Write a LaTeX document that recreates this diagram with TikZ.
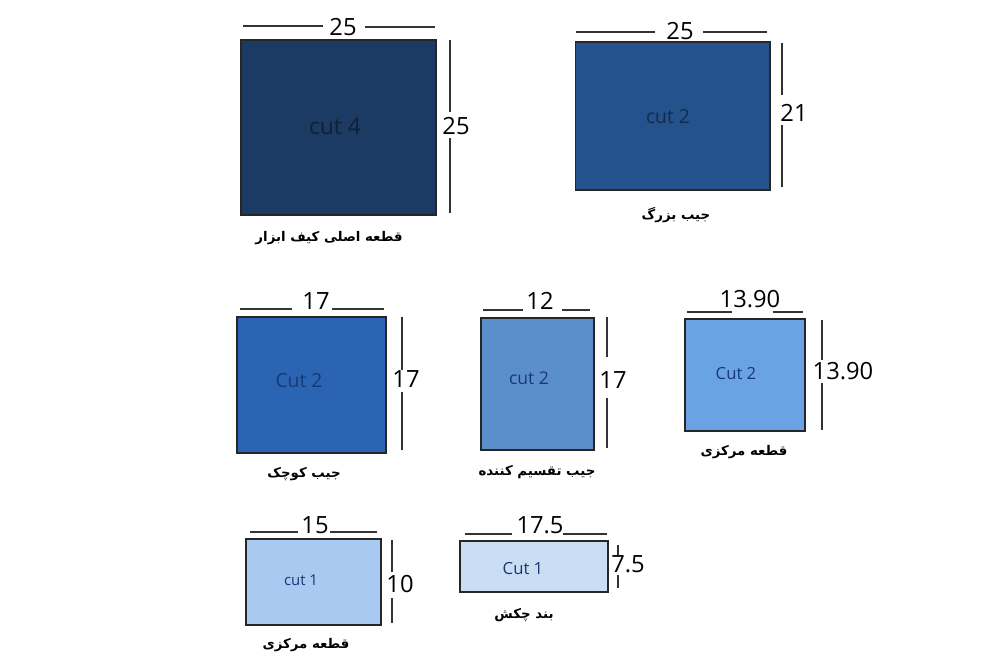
\documentclass[tikz,border=0pt]{standalone}
\usepackage{fontspec}
\setmainfont{Open Sans}
\newfontfamily\arabicfont[Script=Arabic]{DejaVu Sans}
\TeXXeTstate=1
\definecolor{navyA}{HTML}{1B3A64}
\definecolor{navyB}{HTML}{23528C}
\definecolor{blueC}{HTML}{2B64B3}
\definecolor{blueD}{HTML}{5B8FCC}
\definecolor{blueE}{HTML}{6AA2E6}
\definecolor{blueF}{HTML}{A8C9F0}
\definecolor{blueG}{HTML}{C9DEF4}
\definecolor{cutink}{HTML}{183A72}
\begin{document}
\begin{tikzpicture}[x=0.02cm,y=-0.02cm,
	piece/.style={draw=black!85,line width=0.6pt,inner sep=0},
	cutlbl/.style={inner sep=0,text=cutink,font=\fontsize{#1}{#1}\selectfont},
	dimlbl/.style={inner sep=1pt,font=\fontsize{13.5}{15}\selectfont},
	dimline/.style={draw=black!80,line width=0.6pt},
	piecename/.style={inner sep=1pt,font=\arabicfont\bfseries\fontsize{7.6}{10}\selectfont}]
\useasboundingbox (0,0) rectangle (1000,667);
% pieces
\node[piece,fill=navyA,minimum width=3.9cm,minimum height=3.5cm] (main) at (338.5,127.5) {};
\node[piece,fill=navyB,minimum width=3.9cm,minimum height=2.96cm] (bigpk) at (672.5,116) {};
\node[piece,fill=blueC,minimum width=2.98cm,minimum height=2.72cm] (smallpk) at (311.5,385) {};
\node[piece,fill=blueD,minimum width=2.26cm,minimum height=2.64cm] (divpk) at (537.5,384) {};
\node[piece,fill=blueE,minimum width=2.4cm,minimum height=2.24cm] (center) at (745,375) {};
\node[piece,fill=blueF,minimum width=2.7cm,minimum height=1.72cm] (center2) at (313.5,582) {};
\node[piece,fill=blueG,minimum width=2.96cm,minimum height=1.02cm] (strap) at (534,566.5) {};
% cut counts
\node[cutlbl=13,text=navyA!55!black] (mainC) at (335,126) {cut 4};
\node[cutlbl=11,text=navyA!75!black] (bigpkC) at (668,117) {cut 2};
\node[cutlbl=11] (smallpkC) at (299,381) {Cut 2};
\node[cutlbl=10] (divpkC) at (529,378) {cut 2};
\node[cutlbl=9.5] (centerC) at (736,374) {Cut 2};
\node[cutlbl=8.5] (center2C) at (301,580) {cut 1};
\node[cutlbl=9.5] (strapC) at (523,569) {Cut 1};
% names
\node[piecename] (mainN) at (329,238) {\beginR قطعه اصلی کیف ابزار\endR};
\node[piecename] (bigpkN) at (676,215) {\beginR جیب بزرگ\endR};
\node[piecename] (smallpkN) at (304,474) {\beginR جیب کوچک\endR};
\node[piecename] (divpkN) at (537,472) {\beginR جیب تقسیم کننده\endR};
\node[piecename] (centerN) at (744,452) {\beginR قطعه مرکزی\endR};
\node[piecename] (center2N) at (306,645) {\beginR قطعه مرکزی\endR};
\node[piecename] (strapN) at (524,615) {\beginR بند چکش\endR};
% sizes
\node[dimlbl] (mainW) at (343,27) {25};
\node[dimlbl] (mainH) at (456,126) {25};
\node[dimlbl] (bigpkW) at (680,31) {25};
\node[dimlbl] (bigpkH) at (794,113) {21};
\node[dimlbl] (smallpkW) at (316,301) {17};
\node[dimlbl] (smallpkH) at (406,379) {17};
\node[dimlbl] (divpkW) at (540,301) {12};
\node[dimlbl] (divpkH) at (613,380) {17};
\node[dimlbl] (centerW) at (750,299) {13.90};
\node[dimlbl] (centerH) at (843,371) {13.90};
\node[dimlbl] (center2W) at (315,525) {15};
\node[dimlbl] (center2H) at (400,584) {10};
\node[dimlbl] (strapW) at (540,525) {17.5};
\node[dimlbl] (strapH) at (628,564) {7.5};
% dimension lines
\draw[dimline] (243,26) -- (323,26) (365,27) -- (435,27);
\draw[dimline] (450,40) -- (450,112) (450,138) -- (450,213);
\draw[dimline] (576,32) -- (655,32) (703,32) -- (767,32);
\draw[dimline] (782,43) -- (782,95) (782,125) -- (782,187);
\draw[dimline] (240,309) -- (292,309) (332,309) -- (384,309);
\draw[dimline] (402,317) -- (402,370) (402,392) -- (402,450);
\draw[dimline] (483,310) -- (523,310) (562,310) -- (590,310);
\draw[dimline] (607,317) -- (607,357) (607,398) -- (607,448);
\draw[dimline] (687,312) -- (732,312) (773,312) -- (803,312);
\draw[dimline] (822,320) -- (822,360) (822,383) -- (822,430);
\draw[dimline] (250,532) -- (298,532) (330,532) -- (377,532);
\draw[dimline] (392,540) -- (392,572) (392,598) -- (392,623);
\draw[dimline] (465,534) -- (512,534) (563,534) -- (607,534);
\draw[dimline] (618,545) -- (618,555) (618,575) -- (618,588);
\end{tikzpicture}
\end{document}
